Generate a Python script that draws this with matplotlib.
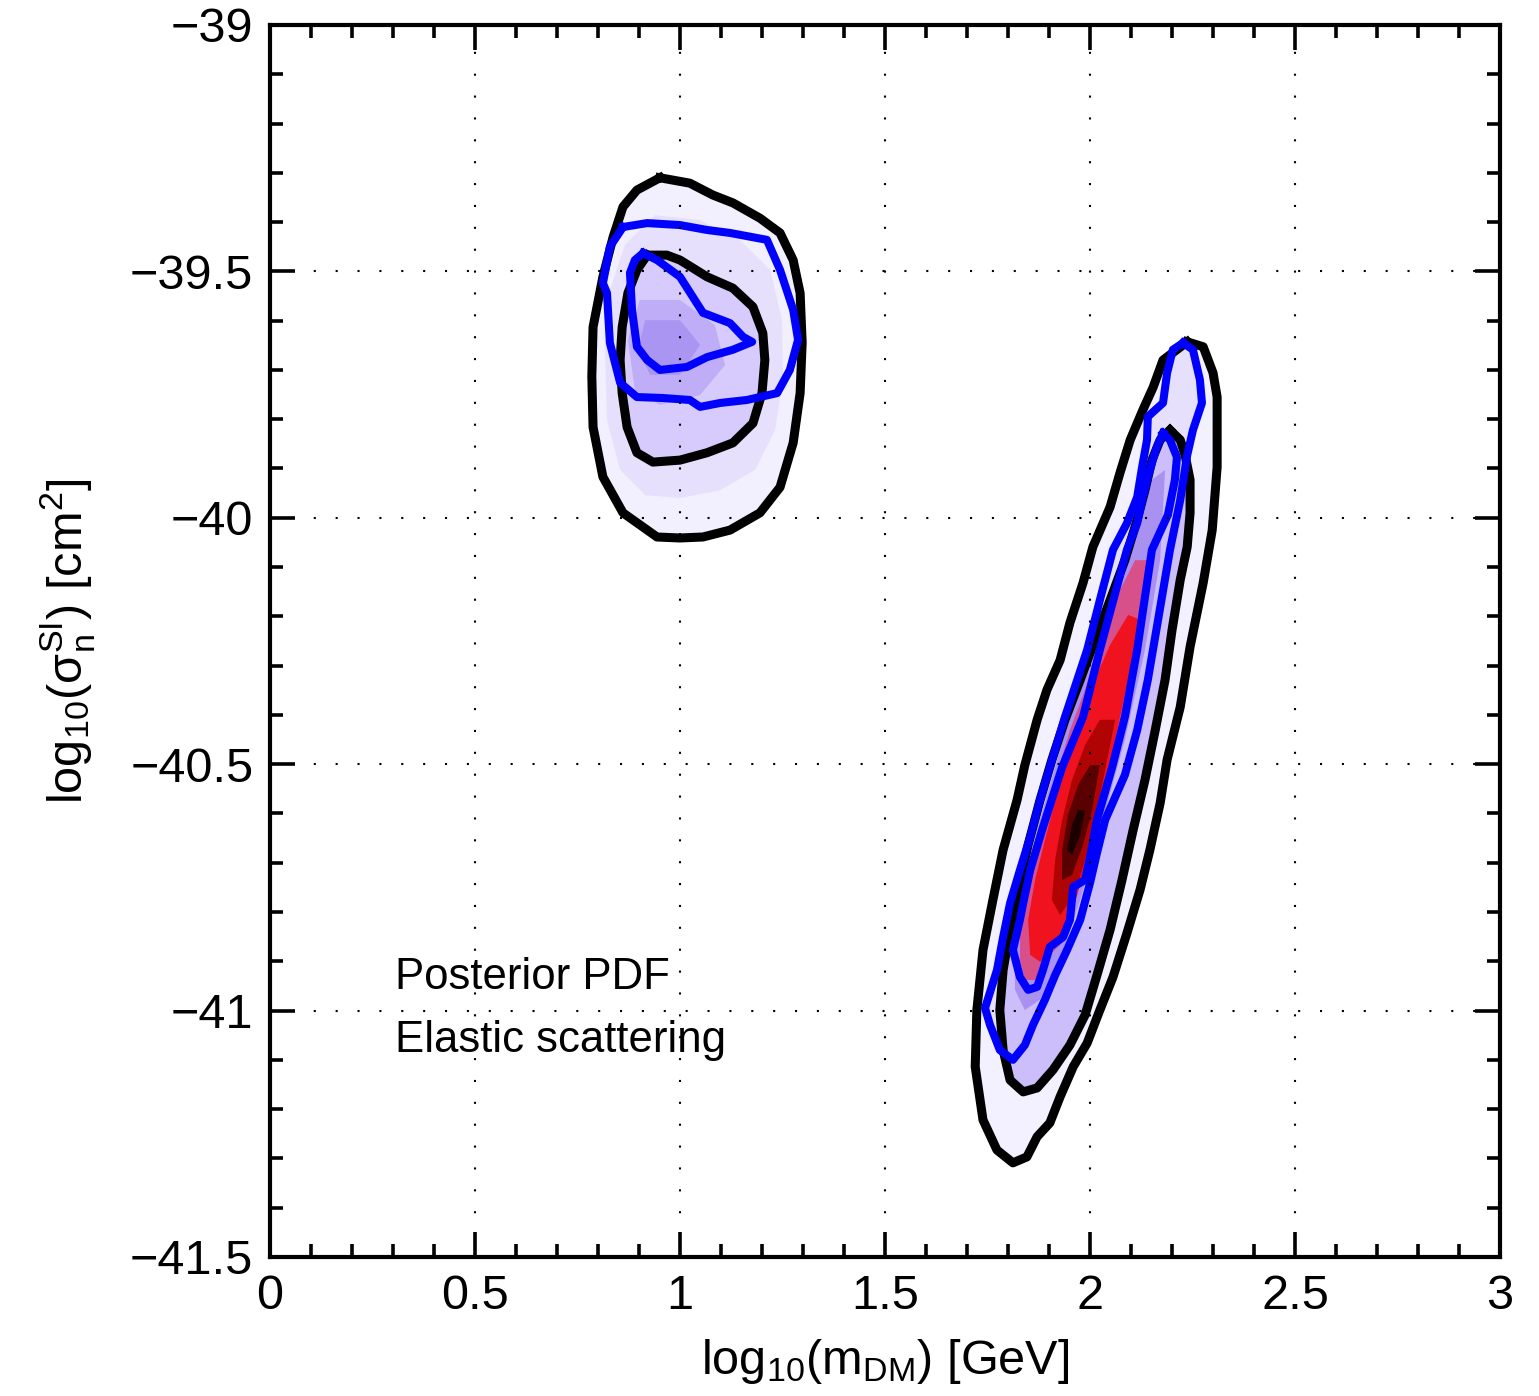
import numpy as np
import matplotlib
matplotlib.use("Agg")
from matplotlib import pyplot as plt
from matplotlib.ticker import MultipleLocator

plt.rcParams['font.family'] = ['Liberation Sans', 'DejaVu Sans']
plt.rcParams['mathtext.fontset'] = 'custom'
plt.rcParams['mathtext.rm'] = 'Liberation Sans'
plt.rcParams['mathtext.it'] = 'Liberation Sans:italic'
plt.rcParams['mathtext.bf'] = 'Liberation Sans:bold'

# ---- contours: (log10 m, log10 sigma) ----
# low-mass island
low_post95_x = [0.951, 1.024, 1.080, 1.129, 1.195, 1.244, 1.276, 1.293, 1.298, 1.293, 1.276, 1.244, 1.195,
                1.122, 1.056, 1.000, 0.944, 0.861, 0.812, 0.788, 0.785, 0.788, 0.812, 0.837, 0.861, 0.895]
low_post95_y = [-39.310, -39.321, -39.345, -39.361, -39.392, -39.422, -39.477, -39.544, -39.645, -39.747,
                -39.848, -39.938, -39.990, -40.025, -40.039, -40.041, -40.039, -39.990, -39.917, -39.816,
                -39.714, -39.613, -39.511, -39.430, -39.369, -39.335]
low_post68_x = [0.920, 0.968, 1.000, 1.066, 1.129, 1.178, 1.202, 1.207, 1.200, 1.178, 1.129, 1.066, 1.000,
                0.934, 0.895, 0.871, 0.859, 0.854, 0.859, 0.873, 0.895]
low_post68_y = [-39.467, -39.467, -39.477, -39.511, -39.534, -39.572, -39.625, -39.680, -39.747, -39.808,
                -39.848, -39.868, -39.883, -39.887, -39.868, -39.816, -39.747, -39.680, -39.613, -39.544,
                -39.497]
low_prof95_x = [0.861, 0.920, 1.000, 1.066, 1.122, 1.212, 1.244, 1.276, 1.288, 1.268, 1.237, 1.163, 1.098,
                1.049, 1.024, 0.959, 0.895, 0.854, 0.829, 0.822, 0.812, 0.829]
low_prof95_y = [-39.410, -39.402, -39.406, -39.416, -39.422, -39.436, -39.497, -39.578, -39.639, -39.700,
                -39.747, -39.761, -39.767, -39.775, -39.761, -39.757, -39.755, -39.726, -39.645, -39.544,
                -39.524, -39.450]
low_prof68_x = [0.910, 0.944, 1.000, 1.056, 1.122, 1.154, 1.176, 1.129, 1.066, 1.017, 0.951, 0.920, 0.895,
                0.883, 0.878, 0.890]
low_prof68_y = [-39.463, -39.477, -39.511, -39.584, -39.605, -39.633, -39.643, -39.659, -39.674, -39.694,
                -39.700, -39.680, -39.653, -39.578, -39.503, -39.477]
low_mid_x = [0.939, 1.049, 1.146, 1.220, 1.249, 1.251, 1.232, 1.183, 1.098, 1.000, 0.915, 0.854, 0.822,
             0.817, 0.829, 0.866]
low_mid_y = [-39.386, -39.396, -39.436, -39.497, -39.599, -39.720, -39.822, -39.903, -39.944, -39.960,
             -39.954, -39.903, -39.802, -39.659, -39.538, -39.446]
low_core_x = [0.902, 1.000, 1.085, 1.110, 1.049, 0.951, 0.890, 0.873]
low_core_y = [-39.558, -39.558, -39.609, -39.690, -39.751, -39.771, -39.741, -39.639]
low_peak_x = [0.915, 1.000, 1.049, 1.000, 0.927, 0.898]
low_peak_y = [-39.599, -39.599, -39.649, -39.710, -39.710, -39.659]

# high-mass island
high_post95_x = [2.237, 2.276, 2.300, 2.310, 2.310, 2.298, 2.276, 2.244, 2.220, 2.188, 2.171, 2.146, 2.122,
                 2.090, 2.056, 2.024, 1.993, 1.959, 1.927, 1.902, 1.871, 1.846, 1.812, 1.773, 1.739, 1.720,
                 1.724, 1.739, 1.763, 1.788, 1.822, 1.841, 1.871, 1.895, 1.927, 1.951, 1.983, 2.007, 2.049,
                 2.073, 2.098, 2.129, 2.154, 2.178]
high_post95_y = [-39.643, -39.653, -39.706, -39.755, -39.897, -40.025, -40.132, -40.262, -40.384, -40.491,
                 -40.579, -40.674, -40.755, -40.843, -40.932, -40.999, -41.066, -41.114, -41.175, -41.228,
                 -41.256, -41.297, -41.309, -41.283, -41.222, -41.114, -40.999, -40.877, -40.776, -40.674,
                 -40.573, -40.502, -40.410, -40.349, -40.289, -40.213, -40.132, -40.059, -39.978, -39.909,
                 -39.842, -39.781, -39.735, -39.680]
high_post68_x = [2.195, 2.220, 2.232, 2.244, 2.244, 2.237, 2.220, 2.200, 2.183, 2.159, 2.134, 2.105, 2.078,
                 2.049, 2.017, 1.988, 1.951, 1.910, 1.871, 1.837, 1.805, 1.788, 1.780, 1.788, 1.805, 1.824,
                 1.849, 1.878, 1.907, 1.939, 1.976, 2.012, 2.049, 2.085, 2.115, 2.134, 2.151, 2.171]
high_post68_y = [-39.822, -39.842, -39.873, -39.923, -39.990, -40.059, -40.126, -40.228, -40.329, -40.431,
                 -40.532, -40.634, -40.735, -40.836, -40.928, -41.009, -41.070, -41.120, -41.157, -41.165,
                 -41.141, -41.080, -40.999, -40.918, -40.836, -40.755, -40.664, -40.573, -40.491, -40.410,
                 -40.329, -40.248, -40.167, -40.086, -40.004, -39.944, -39.883, -39.842]
high_prof95_x = [2.227, 2.251, 2.268, 2.273, 2.251, 2.237, 2.220, 2.195, 2.166, 2.141, 2.115, 2.085, 2.037,
                 2.017, 2.000, 1.976, 1.944, 1.915, 1.890, 1.861, 1.841, 1.812, 1.780, 1.756, 1.744, 1.773,
                 1.788, 1.805, 1.829, 1.854, 1.878, 1.902, 1.939, 1.993, 2.024, 2.056, 2.090, 2.115, 2.127,
                 2.139, 2.141, 2.154, 2.178, 2.188, 2.202]
high_prof95_y = [-39.645, -39.659, -39.720, -39.767, -39.822, -39.873, -39.964, -40.065, -40.207, -40.329,
                 -40.431, -40.522, -40.613, -40.680, -40.741, -40.816, -40.877, -40.928, -40.978, -41.029,
                 -41.070, -41.100, -41.080, -41.029, -40.995, -40.918, -40.851, -40.782, -40.715, -40.648,
                 -40.573, -40.506, -40.404, -40.268, -40.167, -40.065, -40.011, -39.958, -39.897, -39.842,
                 -39.795, -39.785, -39.767, -39.706, -39.659]
high_prof68_x = [2.178, 2.195, 2.212, 2.207, 2.190, 2.151, 2.115, 2.085, 2.054, 2.017, 2.002, 1.988, 1.959,
                 1.951, 1.934, 1.902, 1.885, 1.871, 1.849, 1.829, 1.812, 1.829, 1.837, 1.854, 1.883, 1.932,
                 1.983, 2.024, 2.090, 2.115, 2.129, 2.146, 2.163]
high_prof68_y = [-39.828, -39.842, -39.877, -39.923, -39.994, -40.065, -40.268, -40.404, -40.506, -40.613,
                 -40.680, -40.735, -40.749, -40.816, -40.851, -40.871, -40.918, -40.952, -40.958, -40.932,
                 -40.877, -40.816, -40.782, -40.715, -40.634, -40.506, -40.404, -40.268, -40.065, -40.011,
                 -39.958, -39.903, -39.856]
high_purple_x = [2.183, 2.171, 2.134, 2.085, 2.024, 1.976, 1.927, 1.878, 1.841, 1.817, 1.817, 1.841, 1.878,
                 1.927, 1.988, 2.049, 2.110, 2.151]
high_purple_y = [-39.903, -40.086, -40.268, -40.451, -40.634, -40.776, -40.897, -40.978, -40.999, -40.958,
                 -40.857, -40.735, -40.613, -40.471, -40.309, -40.167, -40.025, -39.923]
high_pink_x = [2.146, 2.122, 2.098, 2.068, 2.037, 2.007, 1.976, 1.951, 1.927, 1.890, 1.866, 1.841, 1.829,
               1.829, 1.849, 1.878, 1.915, 1.951, 1.988, 2.024, 2.073, 2.110]
high_pink_y = [-40.086, -40.207, -40.329, -40.451, -40.573, -40.674, -40.745, -40.816, -40.867, -40.897,
               -40.938, -40.938, -40.897, -40.816, -40.735, -40.634, -40.532, -40.431, -40.349, -40.248,
               -40.147, -40.086]
high_red_x = [2.122, 2.093, 2.061, 2.029, 2.000, 1.976, 1.946, 1.915, 1.878, 1.854, 1.849, 1.866, 1.890,
              1.922, 1.956, 2.000, 2.049, 2.093]
high_red_y = [-40.207, -40.329, -40.451, -40.573, -40.674, -40.745, -40.826, -40.867, -40.901, -40.887,
              -40.816, -40.735, -40.654, -40.552, -40.451, -40.349, -40.258, -40.197]
high_dark_x = [2.061, 2.037, 2.012, 1.988, 1.963, 1.927, 1.907, 1.915, 1.932, 1.956, 1.988, 2.024]
high_dark_y = [-40.410, -40.512, -40.613, -40.694, -40.765, -40.806, -40.776, -40.694, -40.613, -40.532,
               -40.461, -40.410]
high_deep_x = [2.024, 2.005, 1.983, 1.956, 1.932, 1.932, 1.946, 1.971, 2.000]
high_deep_y = [-40.502, -40.593, -40.664, -40.725, -40.735, -40.674, -40.603, -40.542, -40.502]
high_peak_x = [1.988, 1.976, 1.956, 1.944, 1.956, 1.971]
high_peak_y = [-40.593, -40.644, -40.684, -40.674, -40.623, -40.593]

xticks = [0, 0.5, 1, 1.5, 2, 2.5, 3]
xtick_labels = ['0', '0.5', '1', '1.5', '2', '2.5', '3']
yticks = [-41.5, -41, -40.5, -40, -39.5, -39]
ytick_labels = ['\u221241.5', '\u221241', '\u221240.5', '\u221240', '\u221239.5', '\u221239']

notes = ['Posterior PDF', 'Elastic scattering']

fig = plt.figure(figsize=(15.39, 13.96), dpi=100)
ax = fig.add_axes([0.1754, 0.0996, 0.7993, 0.8825])

fills = [
    (low_post95_x, low_post95_y, '#f2effe'),
    (low_mid_x, low_mid_y, '#e6e0fd'),
    (low_post68_x, low_post68_y, '#d6cbfc'),
    (low_core_x, low_core_y, '#bfaef7'),
    (low_peak_x, low_peak_y, '#aa95f2'),
    (high_post95_x, high_post95_y, '#f3f0ff'),
    (high_prof95_x, high_prof95_y, '#e6e0fd'),
    (high_post68_x, high_post68_y, '#cbbefb'),
    (high_purple_x, high_purple_y, '#a891f1'),
    (high_pink_x, high_pink_y, '#d8508a'),
    (high_red_x, high_red_y, '#f0121f'),
    (high_dark_x, high_dark_y, '#b00404'),
    (high_deep_x, high_deep_y, '#5a0000'),
    (high_peak_x, high_peak_y, '#1c0000'),
]
for fx, fy, c in fills:
    ax.fill(fx, fy, color=c, lw=0, zorder=1)

for cx, cy in [(low_post95_x, low_post95_y), (low_post68_x, low_post68_y),
               (high_post95_x, high_post95_y), (high_post68_x, high_post68_y)]:
    ax.plot(cx + cx[:1], cy + cy[:1], color='black', lw=6.5, zorder=2)
for cx, cy in [(low_prof95_x, low_prof95_y), (low_prof68_x, low_prof68_y),
               (high_prof95_x, high_prof95_y), (high_prof68_x, high_prof68_y)]:
    ax.plot(cx + cx[:1], cy + cy[:1], color='#0000ff', lw=5.8, zorder=2.2)

ax.text(0.305, -40.932, notes[0], fontsize=31.5, va='center', ha='left')
ax.text(0.305, -41.060, notes[1], fontsize=31.5, va='center', ha='left')

ax.set_xlim(0, 3)
ax.set_ylim(-41.5, -39)
ax.set_xticks(xticks)
ax.set_xticklabels(xtick_labels)
ax.set_yticks(yticks)
ax.set_yticklabels(ytick_labels)
ax.xaxis.set_minor_locator(MultipleLocator(0.1))
ax.yaxis.set_minor_locator(MultipleLocator(0.1))
ax.tick_params(which='both', direction='in', top=True, right=True, width=2.6, labelsize=35)
ax.tick_params(which='major', length=18, pad=12)
ax.tick_params(which='minor', length=9.5)
for s in ax.spines.values():
    s.set_linewidth(3)

ax.set_axisbelow(False)
ax.grid(True, which='major', color='black', linestyle=(0, (1, 9.5)), linewidth=1.5)

ax.set_xlabel(r'log$_\mathrm{10}$(m$_\mathrm{DM}$) [GeV]', fontsize=35, labelpad=13)
ax.set_ylabel(r'log$_\mathrm{10}$($\mathrm{σ}_\mathrm{n}^\mathrm{SI}$) [cm$^\mathrm{2}$]', fontsize=35, labelpad=24)

fig.savefig('out.png', dpi=100)
